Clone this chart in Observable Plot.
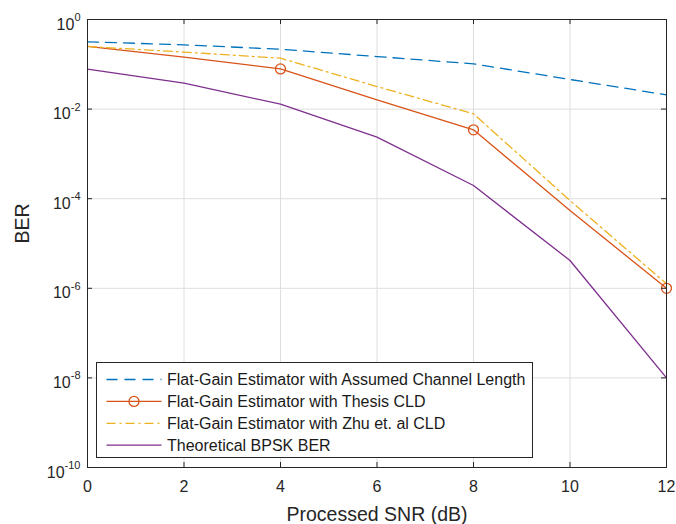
<!DOCTYPE html>
<html><head><meta charset="utf-8">
<script src="https://cdn.jsdelivr.net/npm/d3@7"></script>
<script src="https://cdn.jsdelivr.net/npm/@observablehq/plot@0.6"></script>
<style>body{margin:0;background:#fff;} svg{display:block;}</style>
</head><body><div id="chart"></div>
<script>
// ---- data ----
const snr = [0, 2, 4, 6, 8, 10, 12];
const berAssumed = [0.318, 0.272, 0.217, 0.149, 0.1025, 0.0458, 0.0208];
const berThesis  = [0.25, 0.144, 0.079, 0.0161, 0.00345, 5.45e-5, 1.0e-6];
const berZhu     = [0.25, 0.187, 0.137, 0.0319, 0.00785, 9.1e-5, 1.26e-6];
const berBpsk    = [0.0778, 0.0379, 0.0129, 0.00236, 1.97e-4, 4.18e-6, 1.0e-8];
const markerSnr  = [4, 8, 12];
const seriesNames = [
  "Flat-Gain Estimator with Assumed Channel Length",
  "Flat-Gain Estimator with Thesis CLD",
  "Flat-Gain Estimator with Zhu et. al CLD",
  "Theoretical BPSK BER"
];
const xTicks = [0, 2, 4, 6, 8, 10, 12];
const yTicks = [1e-10, 1e-8, 1e-6, 1e-4, 1e-2, 1];
const xLabel = "Processed SNR (dB)";
const yLabel = "BER";

// ---- styles ----
const colors = ["#0072BD", "#D95319", "#EDB120", "#7E2F8E"];
const dashes = ["11,7", null, "9,4,2,4", null];
const W = 676, H = 524, mL = 87, mR = 10, mT = 19, mB = 57;
const innerW = W - mL - mR, innerH = H - mT - mB;
const font = "'Liberation Sans', Arial, Helvetica, sans-serif";

const allSeries = [berAssumed, berThesis, berZhu, berBpsk];
const seriesRows = allSeries.map((arr, i) => arr.map((v, j) => ({series: seriesNames[i], snr: snr[j], ber: v})));
const markerRows = seriesRows[1].filter(d => markerSnr.includes(d.snr));

const plot = Plot.plot({
  width: W, height: H,
  marginLeft: mL, marginRight: mR, marginTop: mT, marginBottom: mB,
  style: {fontFamily: font, fontSize: "16px", color: "#262626", background: "#fff", overflow: "visible"},
  x: {domain: [0, 12]},
  y: {type: "log", domain: [1e-10, 1]},
  marks: [
    Plot.ruleX(xTicks, {x: d => d, stroke: "#dedede", strokeWidth: 1}),
    Plot.ruleY(yTicks, {y: d => d, stroke: "#dedede", strokeWidth: 1}),
    ...seriesRows.map((rows, i) => Plot.line(rows, {
      x: "snr", y: "ber", stroke: colors[i], strokeWidth: 1.3,
      strokeDasharray: dashes[i] || undefined
    })),
    Plot.dot(markerRows, {x: "snr", y: "ber", r: 5, stroke: colors[1], fill: "none", strokeWidth: 1.3}),
    Plot.frame({stroke: "#262626", strokeWidth: 1}),
    Plot.ruleX(xTicks, {x: d => d, insetTop: innerH - 5, stroke: "#262626"}),
    Plot.ruleX(xTicks, {x: d => d, insetBottom: innerH - 5, stroke: "#262626"}),
    Plot.ruleY(yTicks, {y: d => d, insetRight: innerW - 5, stroke: "#262626"}),
    Plot.ruleY(yTicks, {y: d => d, insetLeft: innerW - 5, stroke: "#262626"}),
    Plot.axisX(xTicks, {tickSize: 0, tickPadding: 13, fontSize: 16, label: null}),
    Plot.axisY(yTicks, {tickSize: 0, tickPadding: 7, fontSize: 16, label: null,
      tickFormat: d => "10^" + Math.round(Math.log10(d))}),
    Plot.text([xLabel], {text: d => d, frameAnchor: "bottom", dy: 47, fontSize: 19.5, lineAnchor: "middle", fill: "#262626"}),
    Plot.text([yLabel], {text: d => d, frameAnchor: "left", rotate: -90, dx: -65, fontSize: 19.5, lineAnchor: "middle", fill: "#262626"})
  ]
});

// superscript exponents on y tick labels
d3.select(plot).selectAll('g[aria-label="y-axis tick label"] text').each(function() {
  const t = d3.select(this);
  const s = t.text();
  const m = s.match(/^10\^(-?\d+)$/);
  if (!m) return;
  t.text(null).attr("y", 10);
  t.append("tspan").text("10");
  t.append("tspan").attr("dy", -8.5).attr("font-size", 11).text(m[1]);
});

// legend
const svg = d3.select(plot);
const lg = svg.append("g").attr("font-family", font).attr("font-size", 16).attr("text-anchor", "start");
const box = {x: 96.5, y: 362.5, w: 436, h: 95};
lg.append("rect").attr("x", box.x).attr("y", box.y).attr("width", box.w).attr("height", box.h)
  .attr("fill", "#fff").attr("stroke", "#262626").attr("stroke-width", 1);
seriesNames.forEach((name, i) => {
  const cy = 379.5 + i * 21.9;
  const ln = lg.append("line").attr("x1", 106.5).attr("x2", 161.5).attr("y1", cy).attr("y2", cy)
    .attr("stroke", colors[i]).attr("stroke-width", 1.3);
  if (dashes[i]) ln.attr("stroke-dasharray", dashes[i]);
  if (i === 1) lg.append("circle").attr("cx", 134).attr("cy", cy).attr("r", 5)
    .attr("fill", "none").attr("stroke", colors[i]).attr("stroke-width", 1.3);
  lg.append("text").attr("x", 167).attr("y", cy).attr("dy", "0.35em").attr("text-anchor", "start")
    .attr("fill", "#1a1a1a").text(name);
});

document.getElementById("chart").appendChild(plot);
</script>
</body></html>
